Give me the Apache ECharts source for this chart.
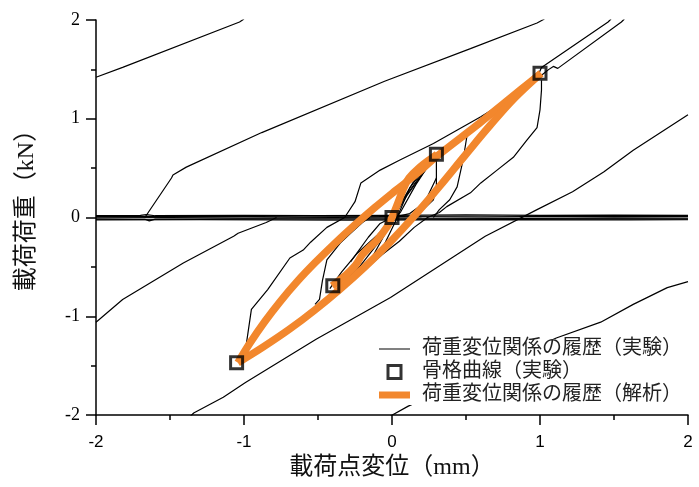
<!DOCTYPE html>
<html><head><meta charset="utf-8">
<script src="https://cdn.jsdelivr.net/npm/echarts@6/dist/echarts.min.js"></script>
<style>html,body{margin:0;padding:0;background:#fff}#c{width:699px;height:487px}</style>
</head><body><div id="c"></div>
<script>
// ---- tick / text ----
const xTicks = [-2, -1, 0, 1, 2];
const yTicks = [-2, -1, 0, 1, 2];
const xName = '載荷点変位（mm）';
const yName = '載荷荷重（kN）';
const legendNames = ['荷重変位関係の履歴（実験）', '骨格曲線（実験）', '荷重変位関係の履歴（解析）'];

// ---- skeleton points (experiment) ----
const skeletonX = [-1.05, -0.40, 0.00, 0.30, 1.00];
const skeletonY = [-1.47, -0.69, 0.00, 0.64, 1.46];

// ---- experimental hysteresis curves ----
const expTopLeft = [[-2.0,1.42],[-1.82,1.52],[-1.03,1.98],[-1.0,2.01]];
const expUpperLeft = [[-1.67,0.0],[-1.49,0.40],[-1.48,0.43],[-1.39,0.51],[-0.88,0.86],[-0.05,1.38],[0.53,1.71],[0.98,1.97],[1.03,2.01]];
const expLeftLower = [[-2.0,-1.06],[-1.82,-0.83],[-1.41,-0.46],[-1.07,-0.19],[-1.04,-0.16],[-0.85,-0.05],[-0.78,0.0]];
const expLowerDiag = [[-1.36,-2.01],[-1.34,-1.98],[-1.14,-1.82],[-0.99,-1.67],[-0.51,-1.23],[-0.01,-0.81],[0.63,-0.19],[0.98,0.08],[1.22,0.26],[1.43,0.46],[1.63,0.68],[2.0,1.04]];
const expBottomRight = [[-0.01,-2.01],[0.11,-1.91],[1.11,-1.22],[1.41,-1.06],[1.63,-0.88],[1.86,-0.71],[2.0,-0.65]];
const expUpperBranch = [[-1.04,-1.46],[-0.99,-1.34],[-0.95,-0.93],[-0.84,-0.73],[-0.69,-0.41],[-0.60,-0.33],[-0.55,-0.25],[-0.44,-0.10],[-0.32,0.0],[-0.25,0.16],[-0.21,0.35],[-0.08,0.48],[0.05,0.58],[0.28,0.75],[0.60,1.02],[0.91,1.31],[1.01,1.44],[1.06,1.50],[1.09,1.53],[1.12,1.51],[1.55,1.98],[1.57,2.01]];
const expPeakUp = [[0.99,1.45],[1.01,1.52],[1.46,1.98],[1.48,2.01]];
const expLowerBranch = [[1.01,1.39],[1.01,1.29],[1.00,1.09],[0.98,0.91],[0.91,0.78],[0.82,0.61],[0.71,0.48],[0.60,0.35],[0.53,0.25],[0.37,0.11],[0.32,0.05],[0.24,0.0],[0.15,-0.10],[0.05,-0.24],[-0.07,-0.38],[-0.28,-0.66],[-0.42,-0.82],[-0.55,-0.99],[-0.69,-1.13],[-0.82,-1.28],[-0.94,-1.39],[-1.03,-1.46]];
const expUnloadA = [[0.30,0.64],[0.30,0.58],[0.30,0.31],[0.28,0.18],[0.21,0.08],[0.14,0.0]];
const expUnloadB = [[0.51,0.86],[0.48,0.58],[0.44,0.31],[0.39,0.18],[0.32,0.08],[0.28,0.0]];
const expNegReload = [[-0.52,-0.88],[-0.49,-0.83],[-0.47,-0.64],[-0.44,-0.43],[-0.35,-0.26],[-0.28,-0.16],[-0.20,-0.05],[-0.15,0.0]];
const expFan1 = [[-0.40,-0.69],[-0.30,-0.53],[-0.16,-0.31],[-0.05,-0.10],[0,0],[0.08,0.19],[0.18,0.40],[0.30,0.64]];
const expFan2 = [[-0.37,-0.66],[-0.22,-0.50],[-0.10,-0.27],[0.0,-0.03],[0.10,0.22],[0.21,0.45],[0.30,0.62]];
const expFan3 = [[-0.32,-0.63],[-0.14,-0.42],[-0.02,-0.09],[0.06,0.06],[0.16,0.33],[0.27,0.58]];
const expFan4 = [[-0.25,-0.56],[-0.08,-0.36],[0.02,-0.05],[0.12,0.30],[0.22,0.50],[0.29,0.60]];
const expFan5 = [[-0.42,-0.72],[-0.34,-0.55],[-0.24,-0.37],[-0.10,-0.18],[0.0,-0.02],[0.05,0.12],[0.14,0.35],[0.26,0.55]];
const expFan6 = [[0.0,0.0],[0.12,0.04],[0.22,0.15],[0.30,0.40]];
const expFan7 = [[0.0,0.0],[-0.08,-0.06],[-0.16,-0.20],[-0.28,-0.45]];
const expBase1 = [[-2.0,0.020],[-1.70,0.022],[-1.66,0.030],[-1.60,0.018],[-1.0,0.021],[-0.5,0.018],[0.0,0.022],[0.5,0.026],[1.0,0.022],[1.5,0.024],[2.0,0.022]];
const expBase2 = [[-2.0,0.008],[-1.2,0.011],[-0.6,0.006],[0.0,0.010],[0.6,0.007],[1.2,0.012],[2.0,0.010]];
const expBase3 = [[-2.0,-0.004],[-1.5,0.0],[-1.0,-0.006],[-0.4,-0.002],[0.2,-0.006],[0.9,-0.008],[1.5,-0.004],[2.0,-0.006]];
const expBase4 = [[-2.0,-0.016],[-1.67,-0.018],[-1.64,-0.034],[-1.60,-0.016],[-0.8,-0.013],[0.4,-0.016],[1.2,-0.014],[2.0,-0.016]];
const expBase5 = [[-2.0,-0.024],[-1.3,-0.022],[-0.3,-0.026],[0.7,-0.022],[1.6,-0.024],[2.0,-0.023]];

// ---- analysis curves ----
const anaReload = [[-0.405,-0.692],[-0.318,-0.591],[-0.250,-0.490],[-0.196,-0.369],[-0.101,-0.227],[-0.034,-0.096],[0.0,0.0],[0.034,0.126],[0.074,0.278],[0.115,0.399],[0.189,0.510],[0.277,0.611],[0.304,0.641]];
const anaUpper = [[-1.041,-1.470],[-0.959,-1.270],[-0.858,-1.051],[-0.757,-0.854],[-0.642,-0.651],[-0.520,-0.458],[-0.385,-0.260],[-0.250,-0.074],[-0.115,0.102],[0.020,0.268],[0.155,0.429],[0.304,0.621],[0.595,0.960],[0.797,1.207],[1.007,1.460]];
const anaLower = [[1.007,1.460],[0.831,1.214],[0.662,0.931],[0.493,0.628],[0.324,0.320],[0.155,0.022],[-0.014,-0.251],[-0.182,-0.498],[-0.351,-0.725],[-0.520,-0.935],[-0.689,-1.127],[-0.872,-1.313],[-1.041,-1.470]];

const expCurves = [expTopLeft, expUpperLeft, expLeftLower, expLowerDiag, expBottomRight, expUpperBranch, expPeakUp, expLowerBranch, expUnloadA, expUnloadB, expNegReload, expFan1, expFan2, expFan3, expFan4, expFan5, expFan6, expFan7, expBase1, expBase2, expBase3, expBase4, expBase5];
const anaCurves = [anaReload, anaUpper, anaLower];

const ORANGE = '#F2872D';
const serifJP = "'Liberation Serif','Times New Roman','Noto Sans CJK JP',serif";

const series = [];
expCurves.forEach(function (c) {
  series.push({ name: legendNames[0], type: 'line', data: c, symbol: 'none', showSymbol: false,
    lineStyle: { color: '#000', width: 1.2 }, itemStyle: { color: '#000' }, z: 2, silent: true });
});
anaCurves.forEach(function (c) {
  series.push({ name: legendNames[2], type: 'line', data: c, symbol: 'none', showSymbol: false, smooth: 0.4,
    lineStyle: { color: ORANGE, width: 7.5 }, itemStyle: { color: ORANGE }, z: 3, silent: true });
});
series.push({ name: legendNames[1], type: 'scatter', data: skeletonX.map(function (x, i) { return [x, skeletonY[i]]; }),
  symbol: 'rect', symbolSize: 12, itemStyle: { color: 'rgba(0,0,0,0)', borderColor: '#000', borderWidth: 3 }, z: 5, silent: true });

const axisCommon = {
  type: 'value', min: -2, max: 2, interval: 1,
  axisLine: { show: true, onZero: false, lineStyle: { color: '#000', width: 1.5 } },
  axisTick: { show: true, inside: false, length: 10, lineStyle: { color: '#000', width: 1.5 } },
  minorTick: { show: true, splitNumber: 2, length: 5, lineStyle: { color: '#000', width: 1.5 } },
  splitLine: { show: false }
};

const chart = echarts.init(document.getElementById('c'), null, { renderer: 'canvas' });
chart.setOption({
  animation: false,
  backgroundColor: '#fff',
  grid: { left: 96, right: 11, top: 20, bottom: 72 },
  xAxis: Object.assign({}, axisCommon, {
    name: xName, nameLocation: 'middle', nameGap: 40,
    nameTextStyle: { fontFamily: serifJP, fontSize: 24, color: '#111' },
    axisLabel: { fontFamily: "'Liberation Sans',Arial,sans-serif", fontSize: 17, color: '#000', margin: 19,
      formatter: function (v) { return xTicks.indexOf(v) >= 0 ? String(v) : ''; } }
  }),
  yAxis: Object.assign({}, axisCommon, {
    name: yName, nameLocation: 'middle', nameGap: 57,
    nameTextStyle: { fontFamily: serifJP, fontSize: 24, color: '#111', padding: [0, 0, 0, 26] },
    axisLabel: { fontFamily: "'Liberation Serif','Times New Roman',serif", fontSize: 18, color: '#000', margin: 16,
      formatter: function (v) { return yTicks.indexOf(v) >= 0 ? String(v) : ''; } }
  }),
  legend: {
    orient: 'vertical', left: 379, top: 339, itemGap: 3, itemWidth: 31, itemHeight: 13,
    backgroundColor: '#fff', padding: [0, 2, 0, 0],
    textStyle: { fontFamily: serifJP, fontSize: 20, color: '#222', padding: [0, 0, 0, 7] },
    data: [
      { name: legendNames[0], icon: 'path://M0,0H31V1H0Z', itemStyle: { color: '#000', borderWidth: 0 } },
      { name: legendNames[1], icon: 'path://M0,0H10V10H0Z', itemStyle: { color: 'rgba(0,0,0,0)', borderColor: '#000', borderWidth: 3 } },
      { name: legendNames[2], icon: 'path://M0,0H31V7H0Z', itemStyle: { color: ORANGE, borderWidth: 0 } }
    ]
  },
  series: series
});
</script>
</body></html>
